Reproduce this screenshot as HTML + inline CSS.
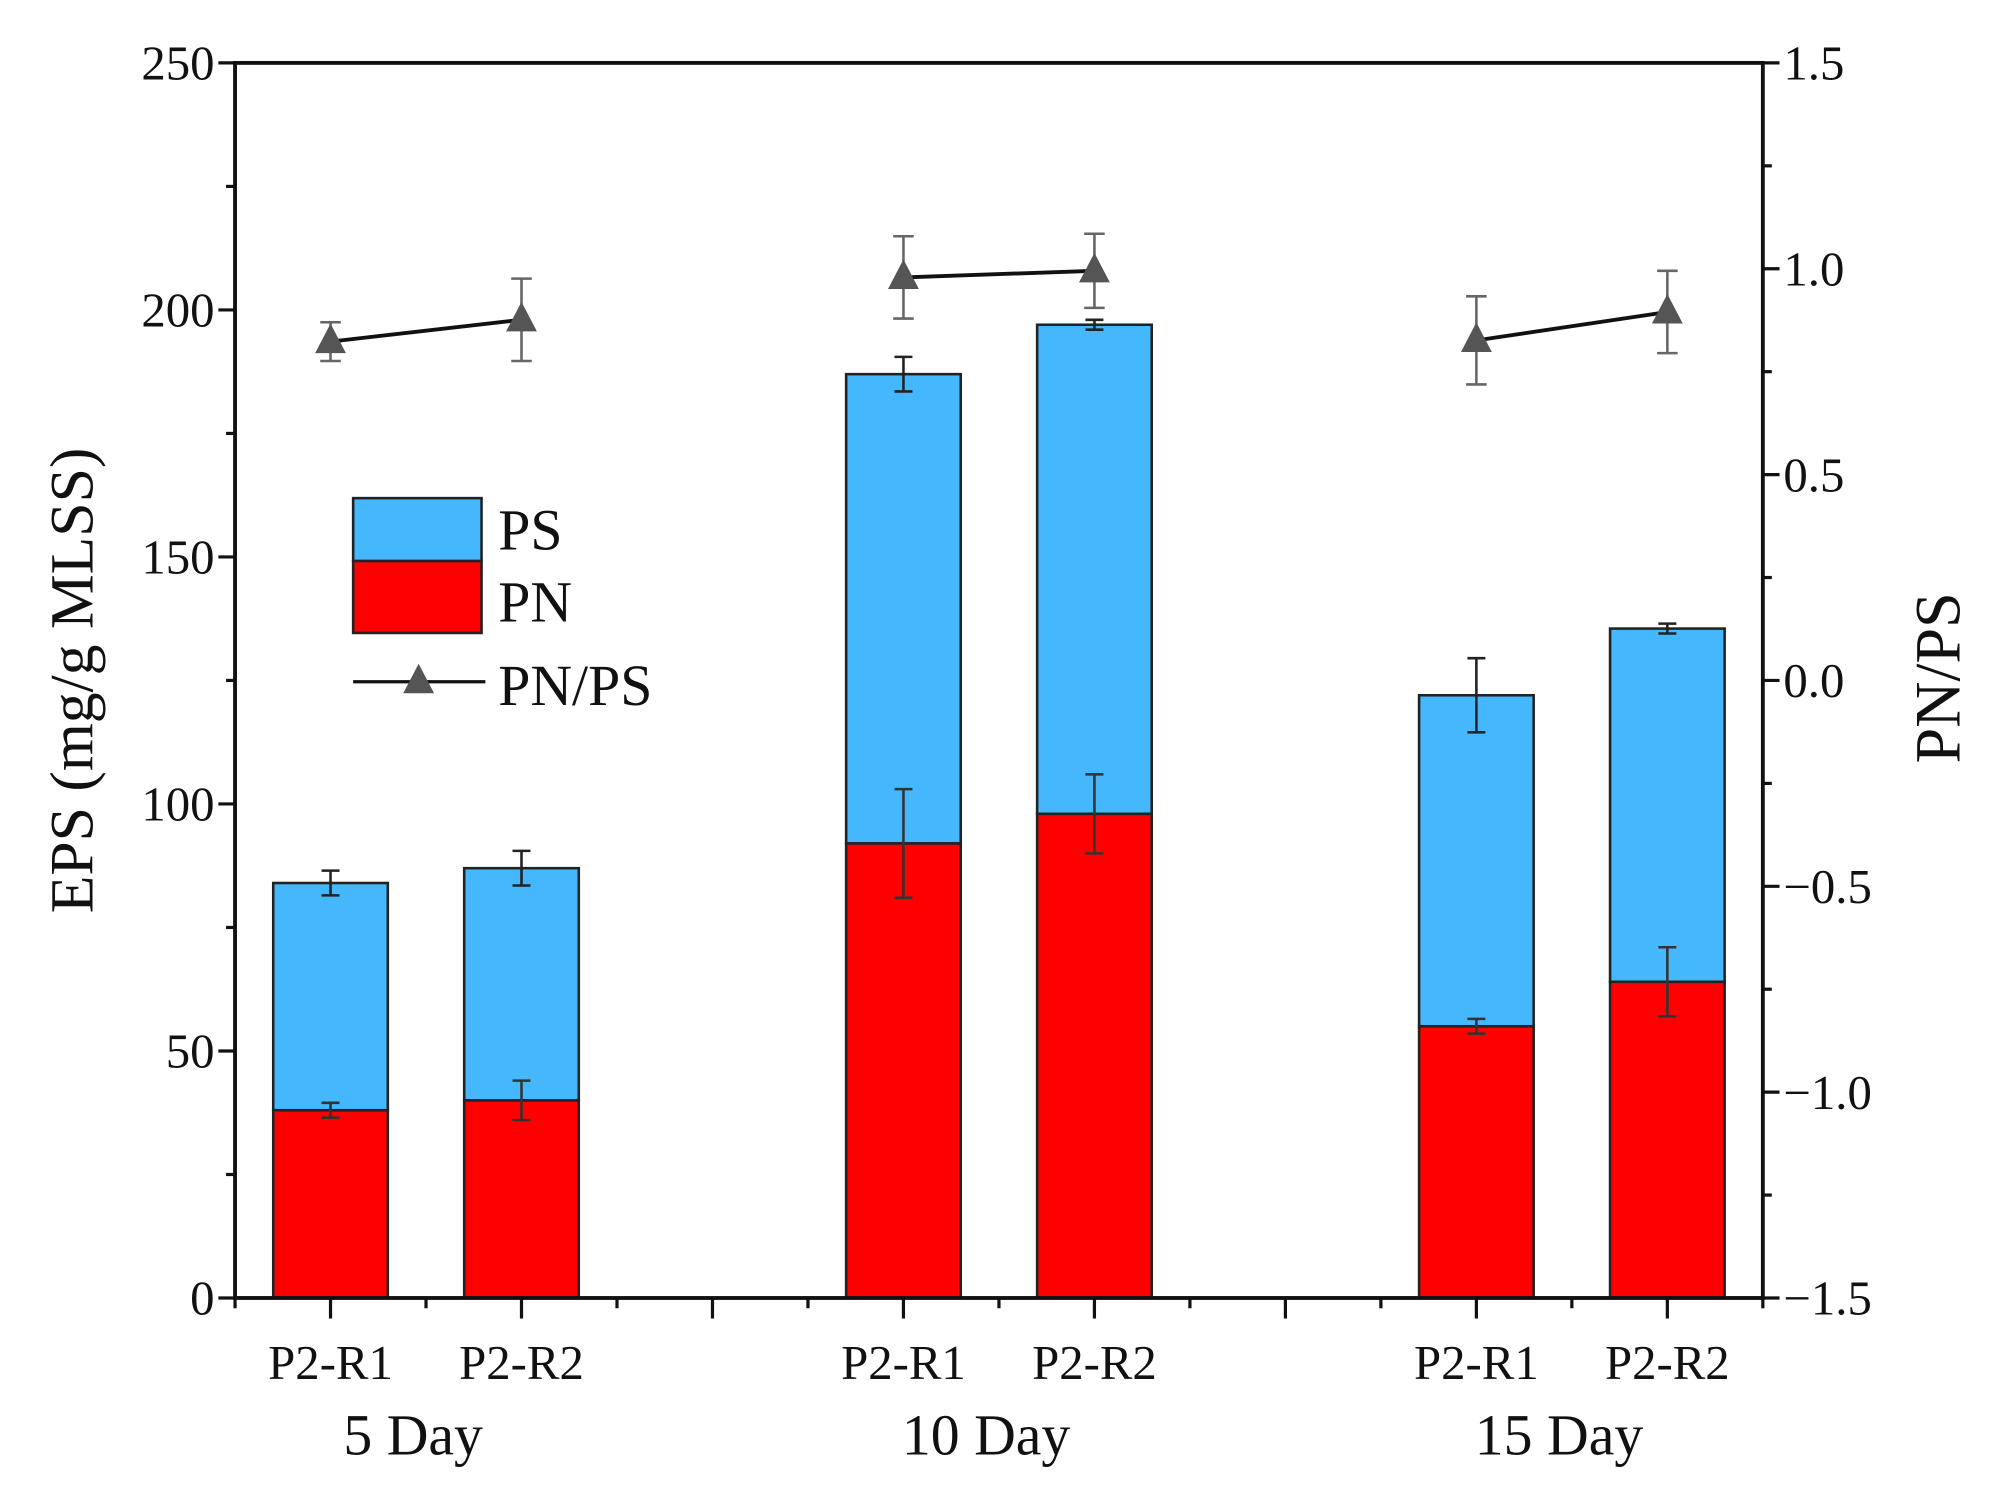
<!DOCTYPE html>
<html><head><meta charset="utf-8"><style>
html,body{margin:0;padding:0;background:#fff;}
svg{display:block;font-family:"Liberation Serif",serif;}
</style></head><body>
<svg id="chart" width="2012" height="1488" viewBox="0 0 1567 1159" xmlns="http://www.w3.org/2000/svg">
<g id="g"></g>
</svg>
<script>
const groups = ["5 Day","10 Day","15 Day"];
const cats = ["P2-R1","P2-R2","P2-R1","P2-R2","P2-R1","P2-R2"];
const catPos = [1,3,7,9,13,15];
const pnVals = [38,40,92,98,55,64];
const pnErr = [1.5,4,11,8,1.5,7];
const totalVals = [84,87,187,197,122,135.5];
const totalErr = [2.5,3.5,3.5,1,7.5,1];
const ratioVals = [0.823,0.876,0.979,0.995,0.826,0.895];
const ratioErr = [0.047,0.1,0.1,0.09,0.107,0.1];
const leftTicks = [0,50,100,150,200,250];
const rightTicks = [-1.5,-1.0,-0.5,0.0,0.5,1.0,1.5];

const L=183,R=1373,T=49,B=1011;
const x = u => L + u*(R-L)/16;
const yL = v => B - v*(B-T)/250;
const yR = v => B - (v+1.5)*(B-T)/3;
const g=document.getElementById('g');
const NS='http://www.w3.org/2000/svg';
function mk(tag,attrs,parent){const e=document.createElementNS(NS,tag);for(const k in attrs)e.setAttribute(k,attrs[k]);(parent||g).appendChild(e);return e;}
function txt(s,attrs){const e=mk('text',attrs);e.textContent=s;return e;}

const bw=1.2*(R-L)/16;
catPos.forEach((c,i)=>{
  const ps=mk('rect',{x:x(c)-bw/2,y:yL(totalVals[i]),width:bw,height:yL(pnVals[i])-yL(totalVals[i]),fill:'#45b7fc',stroke:'#222','stroke-width':2});
  
  
  const pn=mk('rect',{x:x(c)-bw/2,y:yL(pnVals[i]),width:bw,height:B-yL(pnVals[i]),fill:'#ff0000',stroke:'#222','stroke-width':2});
  
  
});
function err(cx,y1,y2,col,w){
  const e=mk('g',{stroke:col,'stroke-width':2});
  mk('line',{x1:cx,x2:cx,y1:y1,y2:y2},e);
  mk('line',{x1:cx-w,x2:cx+w,y1:y1,y2:y1},e);
  mk('line',{x1:cx-w,x2:cx+w,y1:y2,y2:y2},e);
  return e;
}
catPos.forEach((c,i)=>{
  const e1=err(x(c),yL(totalVals[i]-totalErr[i]),yL(totalVals[i]+totalErr[i]),'#222',7);
  
  
  const e2=err(x(c),yL(pnVals[i]-pnErr[i]),yL(pnVals[i]+pnErr[i]),'#333',7);
  
  
});
for(let k=0;k<3;k++){
  const a=2*k,b=2*k+1;
  const ln=mk('line',{x1:x(catPos[a]),y1:yR(ratioVals[a]),x2:x(catPos[b]),y2:yR(ratioVals[b]),stroke:'#111','stroke-width':3});
  
  
}
catPos.forEach((c,i)=>{
  const e=err(x(c),yR(ratioVals[i]-ratioErr[i]),yR(ratioVals[i]+ratioErr[i]),'#666',8);
  
  
  const cx=x(c),cy=yR(ratioVals[i]);
  const t=mk('polygon',{points:`${cx},${cy-14} ${cx-12},${cy+9} ${cx+12},${cy+9}`,fill:'#555'});
  
  
});
const fr=mk('rect',{x:L,y:T,width:R-L,height:B-T,fill:'none',stroke:'#111','stroke-width':3});


for(let v=0;v<=250;v+=25){const y=yL(v);mk('line',{x1:L-(v%50==0?13:7),x2:L,y1:y,y2:y,stroke:'#111','stroke-width':2.5});}
leftTicks.forEach(v=>{const t=txt(String(v),{x:L-16,y:yL(v)+13,'font-size':38,'text-anchor':'end',fill:'#111'});
  });
for(let v=-1.5;v<=1.501;v+=0.25){const y=yR(v);const maj=Math.abs(v*2-Math.round(v*2))<1e-6;mk('line',{x1:R,x2:R+(maj?13:7),y1:y,y2:y,stroke:'#111','stroke-width':2.5});}
rightTicks.forEach(v=>{const s=(v<0?'\u2212':'')+Math.abs(v).toFixed(1);const t=txt(s,{x:R+16,y:yR(v)+13,'font-size':38,fill:'#111'});
  });
for(let u=0;u<=16;u++){const maj=catPos.includes(u)||u==5||u==11;mk('line',{x1:x(u),x2:x(u),y1:B,y2:B+(maj?16:8),stroke:'#111','stroke-width':2.5});}
catPos.forEach((c,i)=>{const t=txt(cats[i],{x:x(c),y:1074,'font-size':38,'text-anchor':'middle',fill:'#111'});
  });
groups.forEach((s,k)=>{const t=txt(s,{x:(x(catPos[2*k])+x(catPos[2*k+1]))/2-10,y:1133,'font-size':45,'text-anchor':'middle',fill:'#111'});
  });
const yt=txt('EPS (mg/g MLSS)',{x:0,y:0,'font-size':48,'text-anchor':'middle',fill:'#111',transform:'translate(72,530) rotate(-90)'});

const yt2=txt('PN/PS',{x:0,y:0,'font-size':50,'text-anchor':'middle',fill:'#111',transform:'translate(1526,528) rotate(-90)'});

const lg=mk('g',{});

mk('rect',{x:275,y:388,width:100,height:49,fill:'#45b7fc',stroke:'#222','stroke-width':2},lg);
mk('rect',{x:275,y:437,width:100,height:56,fill:'#ff0000',stroke:'#222','stroke-width':2},lg);
mk('line',{x1:275,x2:378,y1:531,y2:531,stroke:'#111','stroke-width':2.5},lg);
mk('polygon',{points:'326,517 314,540 338,540',fill:'#555'},lg);
[['PS',428],['PN',484],['PN/PS',549]].forEach(([s,y])=>{const t=mk('text',{x:388,y:y,'font-size':45,fill:'#111'},lg);t.textContent=s;});
</script>
</body></html>
